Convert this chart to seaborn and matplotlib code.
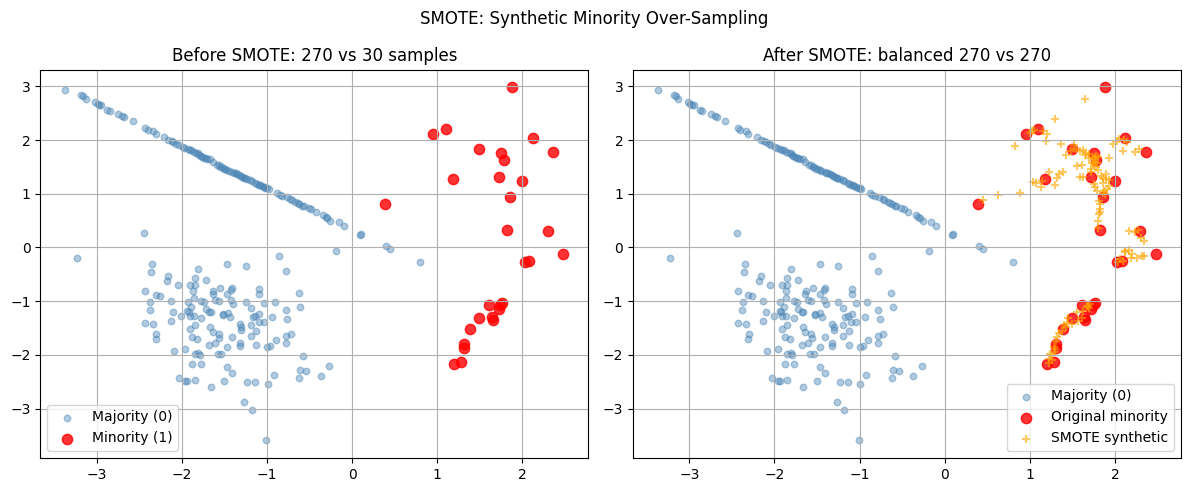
import numpy as np
import matplotlib
matplotlib.use("Agg")
import matplotlib.pyplot as plt
import seaborn as sns

# Majority class (0): diagonal band + blob + a few strays
band_x = [-3.37, -3.18, -3.16, -3.13, -3.02, -2.99, -2.97, -2.95, -2.88, -2.85,
          -2.75, -2.70, -2.68, -2.58, -2.43, -2.40, -2.34, -2.31, -2.21, -2.16,
          -2.12, -2.10, -2.07, -2.04, -1.99, -1.97, -1.93, -1.91, -1.89, -1.86,
          -1.83, -1.81, -1.80, -1.78, -1.76, -1.74, -1.72, -1.70, -1.67, -1.64,
          -1.59, -1.57, -1.55, -1.53, -1.51, -1.49, -1.47, -1.45, -1.41, -1.39,
          -1.37, -1.35, -1.33, -1.31, -1.29, -1.27, -1.26, -1.23, -1.20, -1.18,
          -1.14, -1.12, -1.10, -1.08, -1.06, -1.04, -1.02, -1.00, -0.98, -0.88,
          -0.85, -0.82, -0.77, -0.73, -0.71, -0.67, -0.64, -0.62, -0.59, -0.57,
          -0.51, -0.48, -0.43, -0.34, -0.31, -0.29, -0.26, -0.16, -0.10]
band_y = [2.94, 2.83, 2.82, 2.77, 2.70, 2.67, 2.65, 2.66, 2.56, 2.55,
          2.49, 2.44, 2.43, 2.36, 2.23, 2.19, 2.17, 2.12, 2.06, 2.01,
          1.99, 1.96, 1.93, 1.91, 1.88, 1.86, 1.83, 1.82, 1.81, 1.78,
          1.76, 1.75, 1.72, 1.71, 1.68, 1.67, 1.66, 1.64, 1.65, 1.60,
          1.54, 1.53, 1.50, 1.49, 1.47, 1.46, 1.44, 1.43, 1.41, 1.39,
          1.38, 1.36, 1.35, 1.33, 1.31, 1.30, 1.30, 1.28, 1.25, 1.23,
          1.20, 1.19, 1.17, 1.16, 1.14, 1.12, 1.11, 1.10, 1.09, 1.02,
          0.98, 0.96, 0.94, 0.91, 0.89, 0.85, 0.82, 0.80, 0.78, 0.77,
          0.74, 0.71, 0.66, 0.60, 0.57, 0.55, 0.50, 0.48, 0.40]

blob_x = [-3.23, -0.19, -0.86, -2.35, -2.36, -1.47, -1.25, -0.78, -1.81, -2.16,
          -2.18, -1.85, -1.72, -2.05, -1.91, -1.85, -2.43, -2.31, -2.26, -1.87,
          -1.63, -1.64, -1.55, -1.41, -1.42, -1.47, -1.09, -1.09, -0.63, -2.13,
          -2.37, -2.38, -1.93, -1.86, -1.77, -1.74, -1.61, -1.57, -1.42, -1.40,
          -1.25, -1.04, -0.91, -0.61, -0.78, -2.10, -1.94, -1.92, -2.01, -1.91,
          -1.86, -1.89, -1.72, -1.68, -1.66, -1.77, -1.52, -1.52, -1.46, -1.44,
          -1.19, -1.17, -1.14, -1.09, -1.10, -1.04, -0.94, -0.76, -2.43, -2.34,
          -2.13, -1.85, -1.91, -1.67, -1.64, -1.57, -1.56, -1.32, -1.30, -1.30,
          -1.19, -1.13, -1.19, -1.41, -2.30, -2.31, -1.88, -1.82, -1.61, -1.68,
          -1.47, -1.32, -1.32, -1.13, -1.00, -0.96, -0.90, -0.78, -0.78, -0.72,
          -2.09, -1.96, -1.85, -1.81, -1.79, -1.58, -1.54, -0.58, -1.88, -1.77,
          -1.47, -1.41, -0.61, -0.54, -0.27, -2.03, -1.96, -1.94, -1.85, -1.66,
          -1.50, -1.23, -1.14, -0.99, -0.92, -0.62, -0.37, -1.27, -1.18, -1.01]
blob_y = [-0.19, -0.07, -0.15, -0.31, -0.46, -0.31, -0.35, -0.44, -0.41, -0.54,
          -0.63, -0.56, -0.61, -0.69, -0.70, -0.70, -0.81, -0.89, -0.91, -0.81,
          -0.81, -0.86, -0.76, -0.76, -0.80, -0.87, -0.78, -0.86, -0.85, -1.00,
          -1.02, -1.17, -1.01, -0.94, -0.99, -1.02, -0.98, -0.99, -0.98, -1.06,
          -1.02, -1.04, -1.02, -1.11, -1.16, -1.20, -1.18, -1.20, -1.27, -1.27,
          -1.28, -1.10, -1.15, -1.20, -1.20, -1.31, -1.23, -1.26, -1.22, -1.30,
          -1.12, -1.29, -1.27, -1.23, -1.38, -1.39, -1.30, -1.33, -1.41, -1.43,
          -1.37, -1.44, -1.51, -1.48, -1.57, -1.61, -1.68, -1.43, -1.48, -1.54,
          -1.44, -1.56, -1.65, -1.66, -1.62, -1.70, -1.66, -1.70, -1.78, -1.81,
          -1.85, -1.77, -1.83, -1.81, -1.85, -1.83, -1.72, -1.64, -1.78, -1.61,
          -1.93, -1.90, -1.99, -1.97, -2.01, -1.98, -1.98, -2.02, -2.17, -2.17,
          -2.22, -2.33, -2.28, -2.30, -2.20, -2.43, -2.48, -2.48, -2.46, -2.59,
          -2.48, -2.50, -2.50, -2.54, -2.38, -2.44, -2.39, -2.88, -3.02, -3.59]

stray_x = [-2.44, 0.09, 0.10, 0.40, 0.45, 0.80]
stray_y = [0.27, 0.23, 0.25, 0.02, -0.02, -0.27]

# Minority class (1): 30 original samples
min_x = [1.88, 0.95, 1.10, 2.12, 1.49, 1.75, 1.78, 2.36, 1.18, 1.72,
         2.00, 1.86, 0.39, 1.82, 2.30, 2.48, 2.03, 2.08, 1.61, 1.76,
         1.72, 1.74, 1.49, 1.64, 1.65, 1.39, 1.31, 1.31, 1.20, 1.28]
min_y = [2.98, 2.12, 2.20, 2.03, 1.83, 1.76, 1.62, 1.78, 1.28, 1.31,
         1.23, 0.94, 0.81, 0.33, 0.30, -0.13, -0.28, -0.25, -1.07, -1.04,
         -1.14, -1.08, -1.32, -1.30, -1.36, -1.52, -1.80, -1.88, -2.17, -2.14]

# SMOTE synthetic samples (visible ones)
syn_x = [1.65, 1.29, 1.20, 1.19, 1.05, 1.03, 0.83, 1.37, 1.52, 1.54,
         1.59, 1.62, 1.42, 1.48, 1.65, 1.69, 1.77, 1.80, 1.73, 1.75,
         1.93, 1.72, 1.72, 1.56, 1.61, 1.98, 2.02, 2.11, 2.14, 2.10,
         2.24, 2.28, 1.23, 1.34, 1.32, 1.39, 1.29, 1.13, 1.04, 1.07,
         1.59, 1.62, 1.90, 1.86, 1.89, 1.93, 1.75, 1.77, 1.79, 1.86,
         1.91, 1.93, 0.89, 0.63, 0.45, 1.82, 1.82, 1.81, 1.80, 1.80,
         2.17, 2.24, 2.34, 2.16, 2.12, 2.20, 2.32, 2.12, 2.19, 2.26,
         2.34, 2.04, 1.67, 1.69, 1.61, 1.57, 1.50, 1.42, 1.38, 1.32,
         1.28, 1.24, 1.22, 1.26, 1.78, 1.76, 1.70, 1.74, 1.66, 1.81,
         1.83, 1.88, 1.30, 1.34, 1.45, 1.55, 1.71, 2.09, 2.05, 1.22,
         1.86, 1.84, 1.87, 1.78, 1.80, 1.14, 1.16, 1.00, 2.27, 2.31,
         1.40, 1.44, 1.63, 1.68, 1.29, 1.31, 1.25, 1.79, 1.76, 2.06]
syn_y = [2.77, 2.40, 2.12, 1.99, 2.18, 2.16, 1.89, 1.93, 1.91, 1.83,
         1.80, 1.81, 1.72, 1.79, 1.72, 1.67, 1.64, 1.69, 1.58, 1.55,
         1.66, 1.46, 1.40, 1.52, 1.54, 1.92, 1.98, 2.01, 1.96, 1.79,
         1.78, 1.83, 1.41, 1.37, 1.29, 1.41, 1.17, 1.12, 1.21, 1.20,
         1.31, 1.31, 1.37, 1.29, 1.28, 1.26, 1.18, 1.12, 1.06, 1.02,
         1.09, 1.14, 1.02, 0.97, 0.88, 0.72, 0.66, 0.62, 0.49, 0.36,
         0.31, 0.28, 0.12, -0.04, -0.09, -0.13, -0.15, -0.07, -0.20, -0.20,
         -0.15, -0.27, -1.09, -1.12, -1.31, -1.37, -1.43, -1.49, -1.55, -1.67,
         -1.86, -1.98, -2.07, -2.10, 1.70, 1.60, 1.74, 1.66, 1.76, 0.86,
         0.80, 1.00, -1.90, -1.60, -1.31, -1.20, -1.06, -0.26, 2.02, -2.15,
         1.20, 1.33, 1.05, 1.50, 1.45, 1.24, 2.16, 2.13, 0.33, 0.18,
         -1.45, -1.40, -1.18, -1.09, -1.95, -1.75, -2.00, 1.57, 1.69, -0.22]

maj_x = band_x + blob_x + stray_x
maj_y = band_y + blob_y + stray_y

fig, axes = plt.subplots(1, 2, figsize=(11.89, 4.95), dpi=100)
fig.subplots_adjust(left=0.034, right=0.993, bottom=0.075, top=0.859, wspace=0.082)

ax = axes[0]
sns.scatterplot(x=maj_x, y=maj_y, color="steelblue", alpha=0.42, s=22,
                edgecolor="steelblue", linewidth=1.0, label="Majority (0)", ax=ax)
sns.scatterplot(x=min_x, y=min_y, color="red", alpha=0.8, s=55,
                edgecolor="red", linewidth=1.0, label="Minority (1)", ax=ax)
ax.set_title("Before SMOTE: 270 vs 30 samples")
ax.legend(loc="lower left")
ax.grid(True)

ax = axes[1]
sns.scatterplot(x=maj_x, y=maj_y, color="steelblue", alpha=0.42, s=22,
                edgecolor="steelblue", linewidth=1.0, label="Majority (0)", ax=ax)
sns.scatterplot(x=min_x, y=min_y, color="red", alpha=0.8, s=55,
                edgecolor="red", linewidth=1.0, label="Original minority", ax=ax)
sns.scatterplot(x=syn_x, y=syn_y, color="orange", alpha=0.6, s=30,
                marker="+", linewidth=1.5, label="SMOTE synthetic", ax=ax)
ax.set_title("After SMOTE: balanced 270 vs 270")
ax.legend(loc="lower right")
ax.grid(True)

fig.suptitle("SMOTE: Synthetic Minority Over-Sampling")
plt.savefig("out.png")
